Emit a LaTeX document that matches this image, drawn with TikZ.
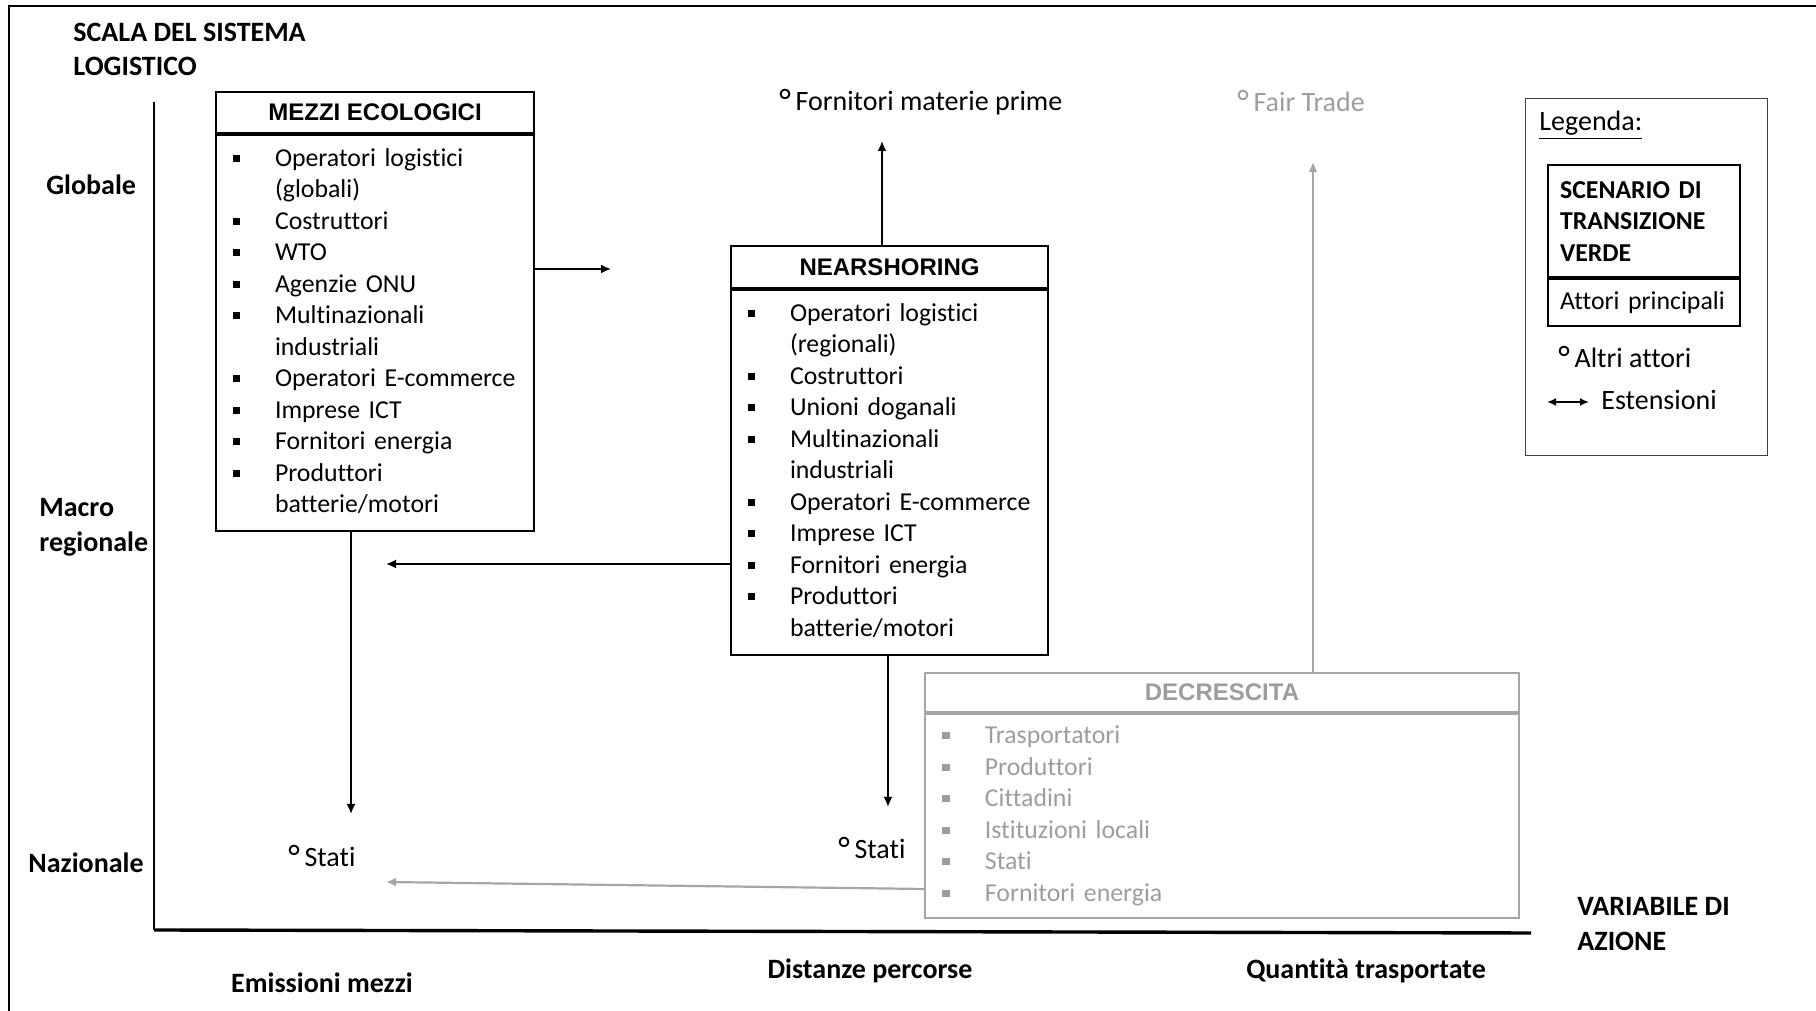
\documentclass[tikz,border=0pt]{standalone}
\usepackage{fontspec}
\setmainfont{Carlito}[Ligatures=NoCommon]
\newfontfamily\hdfont{Liberation Sans}
\usetikzlibrary{positioning,arrows.meta,calc}
\definecolor{soft}{HTML}{A6A6A6}
\definecolor{softtxt}{HTML}{9D9D9D}
\newcommand\bodysize{\fontsize{12.9pt}{15.75pt}\selectfont}
\newcommand\blt{\rule[0.35ex]{3.6pt}{3.6pt}}
\newcommand\oth{\raisebox{-0.8pt}{\fontsize{17pt}{17pt}\selectfont °}\,}
\newcommand\actors[1]{\begin{tabular}{@{}p{21.25pt}@{}l@{}}#1\end{tabular}}

\begin{document}
\begin{tikzpicture}[x=0.5pt,y=0.5pt,
  font=\bodysize,
  head/.style={draw,line width=1pt,inner sep=0pt,font=\hdfont\bfseries\fontsize{12pt}{14pt}\selectfont},
  body/.style={draw,line width=1pt,inner ysep=0pt,inner xsep=8.25pt,align=left},
  grey/.style={draw=soft,text=softtxt},
  axlab/.style={font=\bfseries\fontsize{14pt}{17.4pt}\selectfont,align=left,inner sep=0pt},
  other/.style={anchor=base west,inner sep=0pt,font=\fontsize{14pt}{17pt}\selectfont},
  a/.style={-{Latex[length=5pt,width=4.5pt]},line width=0.9pt},
  ga/.style={a,draw=soft,line width=1.1pt}]
\useasboundingbox (0,0) rectangle (1816,1011);
\draw[line width=0.8pt] (9,0) -- (9,1005) -- (1816,1005);

% axes
\coordinate (o) at (154,81);
\coordinate (ytop) at (154,909);
\coordinate (xend) at (1531,78);
\draw[line width=1.1pt] (ytop) -- (o);
\draw[line width=1.7pt] (o) -- (xend);
\node[axlab,anchor=west] (scala) at (73,961.5) {SCALA DEL SISTEMA\\LOGISTICO};
\node[axlab,anchor=west] (glob) at (46,826) {Globale};
\node[axlab,anchor=west] (macro) at (39,484) {Macro\\regionale};
\node[axlab,anchor=west] (naz) at (28,148) {Nazionale};
\node[axlab] (emis) at (322,28) {Emissioni mezzi};
\node[axlab] (dist) at (870,40) {Distanze percorse};
\node[axlab] (quant) at (1366,40) {Quantità trasportate};
\node[axlab,anchor=west] (var) at (1577,87) {VARIABILE DI\\AZIONE};

% scenari
\node[head,minimum width=159pt,minimum height=20.5pt,anchor=north west] (mezzi-h) at (215,920) {MEZZI ECOLOGICI};
\node[body,text width=142.5pt,minimum height=198pt,below=0pt of mezzi-h] (mezzi) {\actors{
  \blt & Operatori logistici\\
       & (globali)\\
  \blt & Costruttori\\
  \blt & WTO\\
  \blt & Agenzie ONU\\
  \blt & Multinazionali\\
       & industriali\\
  \blt & Operatori E-commerce\\
  \blt & Imprese ICT\\
  \blt & Fornitori energia\\
  \blt & Produttori\\
       & batterie/motori}};

\node[head,minimum width=158.5pt,minimum height=21pt,anchor=north west] (near-h) at (730,766) {NEARSHORING};
\node[body,text width=142pt,minimum height=182.5pt,below=0pt of near-h] (near) {\actors{
  \blt & Operatori logistici\\
       & (regionali)\\
  \blt & Costruttori\\
  \blt & Unioni doganali\\
  \blt & Multinazionali\\
       & industriali\\
  \blt & Operatori E-commerce\\
  \blt & Imprese ICT\\
  \blt & Fornitori energia\\
  \blt & Produttori\\
       & batterie/motori}};

\node[head,grey,minimum width=297pt,minimum height=19.5pt,anchor=north west] (decr-h) at (924,339) {DECRESCITA};
\node[body,grey,inner xsep=8.7pt,text width=279.6pt,minimum height=102pt,below=0pt of decr-h] (decr) {\actors{
  \blt & Trasportatori\\
  \blt & Produttori\\
  \blt & Cittadini\\
  \blt & Istituzioni locali\\
  \blt & Stati\\
  \blt & Fornitori energia}};

% altri attori
\node[other] (forn) at (779,900) {\oth Fornitori materie prime};
\node[other,text=softtxt] (fair) at (1237,899) {\oth Fair Trade};
\node[other] (stati1) at (288,144) {\oth Stati};
\node[other] (stati2) at (838,152) {\oth Stati};

% estensioni
\coordinate (m-r) at (611,742);
\coordinate (m-d) at (351,197);
\coordinate (n-u) at (882,870);
\coordinate (n-l) at (386,447);
\coordinate (n-d) at (888,204);
\coordinate (d-l) at (386,129);
\coordinate (d-u) at (1313,849);
\draw[a] (mezzi.east |- m-r) -- (m-r);
\draw[a] (mezzi.south -| m-d) -- (m-d);
\draw[a] (near-h.north -| n-u) -- (n-u);
\draw[a] (near.west |- n-l) -- (n-l);
\draw[a] (near.south -| n-d) -- (n-d);
\draw[ga] ($(decr.west)+(0,-73)$) -- (d-l);
\draw[ga] (decr-h.north -| d-u) -- (d-u);

% legenda
\node[draw=black!75,line width=0.6pt,minimum width=121pt,minimum height=178.5pt,anchor=north west] (leg) at (1525,913) {};
\node[other] (leg-t) at (1539,880) {\underline{Legenda:}};
\node[draw,line width=1.1pt,anchor=north west,minimum height=56pt,inner xsep=6pt,inner ysep=0pt,text width=84pt,align=left,font=\bodysize\bfseries] (leg-s) at (1547,847) {SCENARIO DI\\TRANSIZIONE\\VERDE};
\node[draw,line width=1.1pt,minimum height=23.5pt,inner xsep=6pt,inner ysep=0pt,text width=84pt,align=left,below=0pt of leg-s] (leg-a) {\mbox{Attori principali}};
\node[other] (leg-o) at (1558,643) {\oth Altri attori};
\coordinate (e1) at (1547,609);
\coordinate (e2) at (1589,609);
\draw[{Latex[length=4.5pt,width=4pt]}-{Latex[length=4.5pt,width=4pt]},line width=1pt] (e1) -- (e2);
\node[other] (leg-e) at (1601,601) {Estensioni};
\end{tikzpicture}
\end{document}
